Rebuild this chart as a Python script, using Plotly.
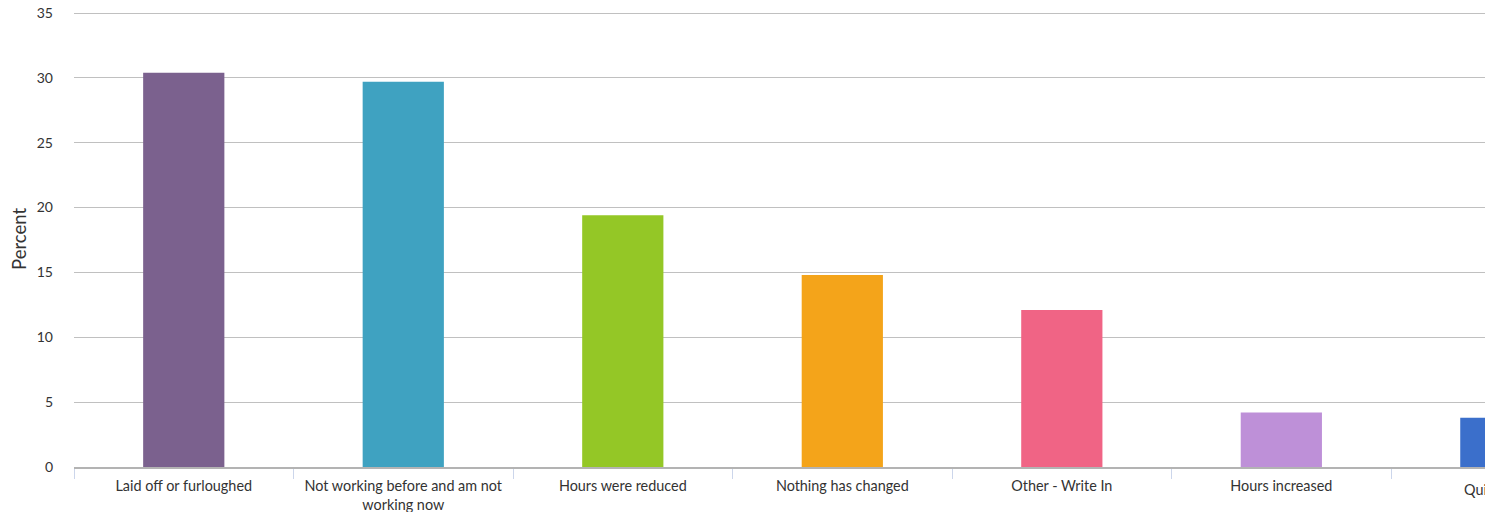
import plotly.graph_objects as go

categories = [
    "Laid off or furloughed",
    "Not working before and am not<br>working now",
    "Hours were reduced",
    "Nothing has changed",
    "Other - Write In",
    "Hours increased",
    "Quit my job",
]
values = [30.4, 29.7, 19.4, 14.8, 12.1, 4.2, 3.8]
colors = ["#7B618E", "#3FA2C1", "#94C726", "#F4A41A", "#F06485", "#BE90D8", "#3B6FCB"]
y_ticks = [0, 5, 10, 15, 20, 25, 30, 35]

x_range = [-0.5, 5.946]
y_range = [0, 35.154]   # a hair above 35 so the top grid line is kept
FONT = "Lato"

fig = go.Figure()
fig.add_trace(go.Bar(
    x=categories,
    y=values,
    marker=dict(color=colors, line=dict(width=0)),
    width=0.37,
    hoverinfo="y",
))

# the page body keeps its default 8px margin, so the figure is sized to fit
fig.update_layout(
    width=1485, height=504,
    margin=dict(l=66, r=4, t=3, b=45, autoexpand=False),
    plot_bgcolor="white", paper_bgcolor="white",
    font=dict(family=FONT, size=14, color="#333333"),
    showlegend=False,
)
fig.update_xaxes(
    type="category",
    range=x_range,
    tickson="boundaries",
    ticks="outside", ticklen=10, tickcolor="#ccd6eb", tickwidth=1,
    ticklabelstandoff=5,
    showline=True, linecolor="#b3b3b3", linewidth=1.5,
    showgrid=False, zeroline=False,
    automargin=False,
    tickfont=dict(family=FONT, size=14.4, color="#333333"),
)
fig.update_yaxes(
    range=y_range,
    tickvals=y_ticks,
    showgrid=True, gridcolor="#c0c0c0", gridwidth=1,
    zeroline=False, showline=False,
    ticks="", ticklabelstandoff=20,
    ticklabeloverflow="allow",
    automargin=False,
    tickfont=dict(family=FONT, size=14, color="#333333"),
    title=dict(text="Percent", font=dict(family=FONT, size=18.5, color="#333333"), standoff=12),
)

# partially visible label of the last category (cut at the page edge)
last = len(categories) - 1
fig.add_annotation(
    x=(last - x_range[0]) / (x_range[1] - x_range[0]), xref="paper", xanchor="center",
    y=0, yref="paper", yanchor="top", yshift=-12,
    text=categories[last], showarrow=False,
    font=dict(family=FONT, size=14.4, color="#333333"),
)

fig.write_html("out.html")
